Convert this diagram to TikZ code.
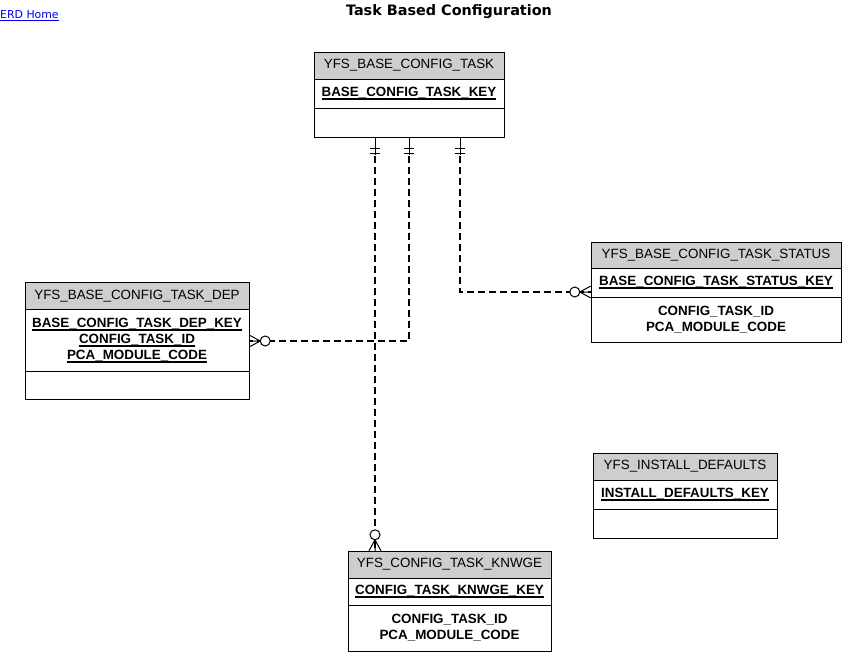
\documentclass[tikz,border=0pt]{standalone}
\usepackage{fontspec}
\setmainfont{Liberation Sans}
\newfontfamily\titlefont{DejaVu Sans}
\usetikzlibrary{positioning,fit,calc}

\newcommand\keyul[1]{\setbox0=\hbox{#1}\rlap{\vrule width\wd0 height -1.5pt depth 2.9pt}\box0}
\definecolor{hdrgray}{RGB}{206,206,206}
\definecolor{linkblue}{RGB}{0,0,238}

\tikzset{
  ent/.style={draw, line width=1pt, outer sep=0pt, inner sep=0pt, align=center},
  enthead/.style={ent, fill=hdrgray, minimum height=27pt, font=\fontsize{13.4}{16}\selectfont},
  entkey/.style={ent, font=\fontsize{13.4}{16}\selectfont\bfseries},
  entbody/.style={ent, font=\fontsize{13.4}{16}\selectfont\bfseries},
  rel/.style={line width=1.6pt, dash pattern=on 7pt off 4pt},
  relend/.style={line width=1pt}
}

\begin{document}
\begin{tikzpicture}[x=1pt,y=-1pt]
\useasboundingbox (0,0) rectangle (842,653);

% Text Node
\node[font=\titlefont\bfseries\fontsize{14.4}{16}\selectfont] (title) at (449,12) {Task Based Configuration};
% Text Node
\node[anchor=west, inner sep=0pt, text=linkblue, font=\titlefont\fontsize{10.9}{12}\selectfont] (home) at (0,16) {\underline{ERD Home}};

%Entity: YFS_BASE_CONFIG_TASK
\node[enthead, minimum width=190pt, anchor=north] (taskhead) at (409,52) {YFS\_BASE\_CONFIG\_TASK};
\node[entkey, minimum width=190pt, minimum height=29pt, below=0pt of taskhead] (taskkey) {\keyul{BASE\_CONFIG\_TASK\_KEY}};
\node[entbody, minimum width=190pt, minimum height=29pt, below=0pt of taskkey] (taskbody) {};
\node[fit=(taskhead)(taskbody), inner sep=0pt] (task) {};

%Entity: YFS_BASE_CONFIG_TASK_DEP
\node[enthead, minimum width=224pt, anchor=north] (dephead) at (137,282.5) {YFS\_BASE\_CONFIG\_TASK\_DEP};
\node[entkey, minimum width=224pt, minimum height=62pt, below=0pt of dephead] (depkey) {\keyul{BASE\_CONFIG\_TASK\_DEP\_KEY}\\\keyul{CONFIG\_TASK\_ID}\\\keyul{PCA\_MODULE\_CODE}};
\node[entbody, minimum width=224pt, minimum height=28pt, below=0pt of depkey] (depbody) {};
\node[fit=(dephead)(depbody), inner sep=0pt] (dep) {};

%Entity: YFS_BASE_CONFIG_TASK_STATUS
\node[enthead, minimum width=250pt, minimum height=26pt, anchor=north] (stathead) at (716,242) {YFS\_BASE\_CONFIG\_TASK\_STATUS};
\node[entkey, minimum width=250pt, minimum height=29pt, below=0pt of stathead] (statkey) {\keyul{BASE\_CONFIG\_TASK\_STATUS\_KEY}};
\node[entbody, minimum width=250pt, minimum height=45pt, below=0pt of statkey] (statbody) {CONFIG\_TASK\_ID\\PCA\_MODULE\_CODE};
\node[fit=(stathead)(statbody), inner sep=0pt] (stat) {};

%Entity: YFS_INSTALL_DEFAULTS
\node[enthead, minimum width=184pt, anchor=north] (insthead) at (685,453) {YFS\_INSTALL\_DEFAULTS};
\node[entkey, minimum width=184pt, minimum height=29pt, below=0pt of insthead] (instkey) {\keyul{INSTALL\_DEFAULTS\_KEY}};
\node[entbody, minimum width=184pt, minimum height=29pt, below=0pt of instkey] (instbody) {};

%Entity: YFS_CONFIG_TASK_KNWGE
\node[enthead, minimum width=203pt, anchor=north] (knwgehead) at (449.5,551) {YFS\_CONFIG\_TASK\_KNWGE};
\node[entkey, minimum width=203pt, minimum height=27pt, below=0pt of knwgehead] (knwgekey) {\keyul{CONFIG\_TASK\_KNWGE\_KEY}};
\node[entbody, minimum width=203pt, minimum height=46pt, below=0pt of knwgekey] (knwgebody) {CONFIG\_TASK\_ID\\PCA\_MODULE\_CODE};
\node[fit=(knwgehead)(knwgebody), inner sep=0pt] (knwge) {};

% relationship ends on the parent
\coordinate (t1) at ([xshift=-34pt]taskbody.south);
\coordinate (t2) at (taskbody.south);
\coordinate (t3) at ([xshift=51pt]taskbody.south);
\coordinate (k1) at (t1 |- knwge.north);

%Straight Lines: task -> knwge
\draw[rel] ($(t1)+(0,19)$) -- (k1);
%Straight Lines: task -> dep
\draw[rel] ($(t2)+(0,19)$) |- (dep.east);
%Straight Lines: task -> status
\draw[rel] ($(t3)+(0,19)$) |- (stat.west);

% one and only one
\draw[relend] (t1) -- ($(t1)+(0,18)$) ($(t1)+(-5,11)$) -- ($(t1)+(5,11)$) ($(t1)+(-5,16)$) -- ($(t1)+(5,16)$);
\draw[relend] (t2) -- ($(t2)+(0,18)$) ($(t2)+(-5,11)$) -- ($(t2)+(5,11)$) ($(t2)+(-5,16)$) -- ($(t2)+(5,16)$);
\draw[relend] (t3) -- ($(t3)+(0,18)$) ($(t3)+(-5,11)$) -- ($(t3)+(5,11)$) ($(t3)+(-5,16)$) -- ($(t3)+(5,16)$);

% zero or many
\draw[relend] ($(dep.east)+(0,-6)$) -- ($(dep.east)+(11,0)$) -- ($(dep.east)+(0,6)$) (dep.east) -- ($(dep.east)+(11,0)$);
\draw[relend, fill=white] ($(dep.east)+(16,0)$) circle[radius=5];
\draw[relend] ($(stat.west)+(0,-6)$) -- ($(stat.west)+(-11,0)$) -- ($(stat.west)+(0,6)$) (stat.west) -- ($(stat.west)+(-11,0)$);
\draw[relend, fill=white] ($(stat.west)+(-16,0)$) circle[radius=5];
\draw[relend] ($(k1)+(-6,0)$) -- ($(k1)+(0,-11)$) -- ($(k1)+(6,0)$) (k1) -- ($(k1)+(0,-11)$);
\draw[relend, fill=white] ($(k1)+(0,-16)$) circle[radius=5];

\end{tikzpicture}
\end{document}
